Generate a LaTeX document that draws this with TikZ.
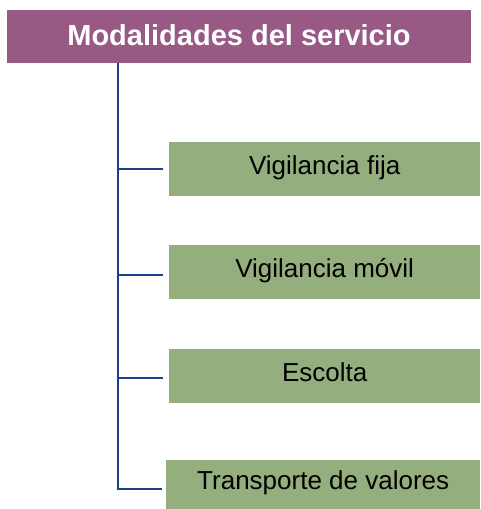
\documentclass[tikz,border=0pt]{standalone}
\usepackage{fontspec}
\setmainfont{Liberation Sans}
\definecolor{titlepurple}{HTML}{985A84}
\definecolor{boxgreen}{HTML}{94AE7E}
\definecolor{spineblue}{HTML}{1A418C}
\begin{document}
\begin{tikzpicture}[x=1pt,y=-1pt,
  titlebox/.style={fill=titlepurple,draw=none,minimum width=464pt,minimum height=53pt,
    inner sep=0pt,text=white,font=\fontsize{29}{32}\selectfont\bfseries,
    text height=22pt,text depth=5pt},
  itembox/.style={fill=boxgreen,draw=none,minimum height=54pt,anchor=north west,
    inner sep=0pt,text=black,font=\fontsize{26}{30}\selectfont,
    text height=16pt,text depth=6pt},
  conn/.style={draw=spineblue,line width=2.4pt}]
\useasboundingbox (0,0) rectangle (480,509);
\node[titlebox] (title) at (239,36.5) {Modalidades del servicio};
\node[itembox,minimum width=311pt] (b1) at (169,142) {Vigilancia fija};
\node[itembox,minimum width=311pt] (b2) at (169,245) {Vigilancia móvil};
\node[itembox,minimum width=311pt] (b3) at (169,349) {Escolta};
\node[itembox,minimum width=314pt,minimum height=49pt] (b4) at (166,460) {Transporte de valores};
\coordinate (top) at (118,63);
\coordinate (c1) at (118,169);
\coordinate (c2) at (118,275);
\coordinate (c3) at (118,378);
\coordinate (c4) at (118,489);
\draw[conn] (top) -- ([yshift=1.2pt]c4);
\draw[conn] (c1) -- ([xshift=-6pt]c1 -| b1.west);
\draw[conn] (c2) -- ([xshift=-6pt]c2 -| b2.west);
\draw[conn] (c3) -- ([xshift=-6pt]c3 -| b3.west);
\draw[conn] ([xshift=-1.2pt]c4) -- ([xshift=-4pt]c4 -| b4.west);
\end{tikzpicture}
\end{document}
